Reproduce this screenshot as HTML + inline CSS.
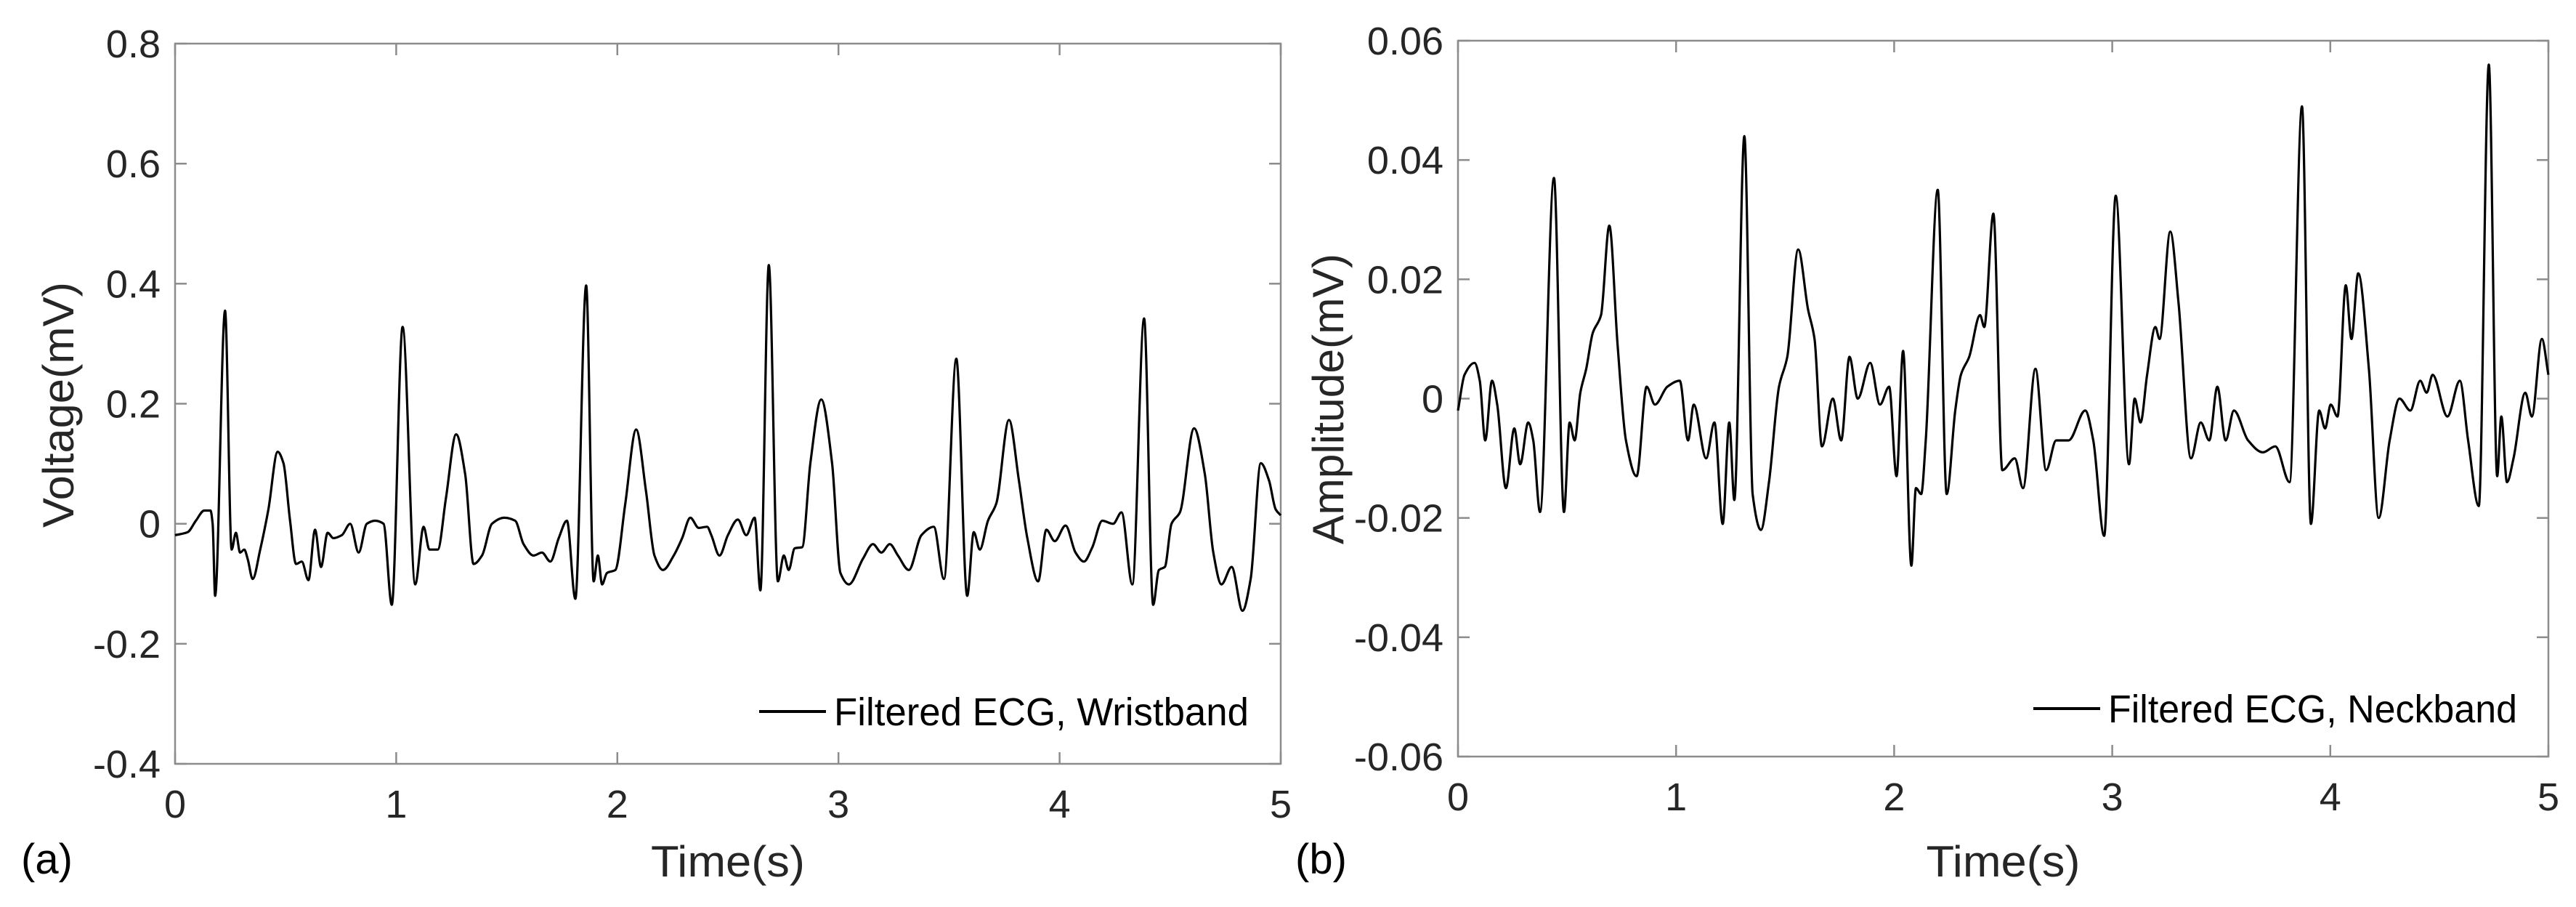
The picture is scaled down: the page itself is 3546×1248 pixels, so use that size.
<!DOCTYPE html>
<html><head><meta charset="utf-8">
<style>
html,body{margin:0;padding:0;background:#fff;}
svg{display:block;font-family:"Liberation Sans",Arial,sans-serif;}
</style></head>
<body>
<svg id="fig" width="3546" height="1248" viewBox="0 0 3546 1248" xmlns="http://www.w3.org/2000/svg">
<rect width="3546" height="1248" fill="#fff"/>
</svg>
<script>
// ---- data: panel (a) wristband ----
const wristT = [0,.057,.094,.132,.16,.17,.181,.226,.256,.275,.294,.313,.328,.351,.385,.422,.464,.49,.52,.547,.573,.603,.633,.66,.69,.716,.754,.792,.83,.867,.905,.943,.98,1.029,1.086,1.124,1.15,1.188,1.225,1.271,1.312,1.35,1.388,1.433,1.489,1.538,1.576,1.621,1.659,1.697,1.735,1.772,1.81,1.859,1.893,1.912,1.931,1.953,1.991,2.036,2.085,2.13,2.168,2.206,2.255,2.293,2.33,2.368,2.406,2.425,2.462,2.5,2.545,2.583,2.621,2.647,2.685,2.726,2.753,2.775,2.802,2.836,2.873,2.922,2.971,3.009,3.047,3.111,3.156,3.194,3.232,3.269,3.318,3.375,3.431,3.477,3.533,3.582,3.612,3.639,3.676,3.714,3.771,3.816,3.854,3.903,3.94,3.978,4.027,4.072,4.11,4.148,4.193,4.242,4.28,4.329,4.382,4.423,4.449,4.476,4.506,4.544,4.608,4.657,4.695,4.732,4.778,4.827,4.864,4.91,4.947,4.977,5];
const wristV = [-.019,-.014,.005,.022,.022,0,-.12,.355,-.043,-.015,-.048,-.043,-.058,-.092,-.043,.024,.12,.101,.005,-.067,-.063,-.094,-.01,-.072,-.015,-.024,-.019,0,-.048,0,.005,0,-.135,.328,-.101,-.005,-.043,-.043,.043,.149,.082,-.067,-.053,0,.01,.005,-.034,-.053,-.048,-.063,-.024,.005,-.125,.397,-.096,-.053,-.101,-.082,-.077,.034,.157,.053,-.053,-.077,-.053,-.024,.01,-.007,-.005,-.019,-.053,-.019,.007,-.019,.01,-.111,.431,-.096,-.053,-.077,-.041,-.039,.101,.207,.101,-.082,-.101,-.058,-.034,-.048,-.034,-.053,-.077,-.019,-.005,-.092,.275,-.12,-.014,-.043,.005,.034,.173,.072,-.024,-.096,-.01,-.029,-.003,-.048,-.063,-.039,.005,0,.019,-.101,.342,-.135,-.077,-.072,0,.019,.159,.082,-.048,-.101,-.072,-.145,-.092,.101,.072,.024,.014];
// ---- data: panel (b) neckband ----
const neckT = [0,.03,.076,.1,.125,.156,.18,.22,.258,.285,.322,.345,.376,.44,.486,.512,.535,.561,.588,.618,.656,.694,.732,.77,.819,.865,.903,.96,1.017,1.055,1.081,1.138,1.176,1.214,1.244,1.267,1.313,1.351,1.389,1.426,1.472,1.51,1.56,1.605,1.635,1.669,1.719,1.757,1.795,1.833,1.89,1.935,1.977,2.011,2.041,2.079,2.1,2.124,2.145,2.2,2.241,2.28,2.306,2.344,2.394,2.413,2.455,2.496,2.553,2.591,2.648,2.697,2.743,2.8,2.876,2.913,2.963,3.016,3.077,3.103,3.13,3.16,3.198,3.217,3.266,3.304,3.361,3.406,3.445,3.482,3.52,3.558,3.623,3.691,3.748,3.813,3.87,3.911,3.949,3.976,4.002,4.033,4.071,4.097,4.128,4.177,4.222,4.272,4.317,4.367,4.412,4.442,4.469,4.537,4.594,4.632,4.681,4.727,4.765,4.784,4.81,4.84,4.894,4.924,4.97,5];
const neckV = [-.002,.004,.006,.003,-.007,.003,-.001,-.015,-.005,-.011,-.004,-.007,-.019,.037,-.019,-.004,-.007,.001,.005,.011,.014,.029,.009,-.007,-.013,.002,-.001,.002,.003,-.007,-.001,-.01,-.004,-.021,-.004,-.017,.044,-.016,-.022,-.014,.002,.007,.025,.015,.01,-.008,0,-.007,.007,0,.006,-.001,.002,-.013,.008,-.028,-.015,-.016,-.007,.035,-.016,-.002,.004,.007,.014,.012,.031,-.012,-.01,-.015,.005,-.012,-.007,-.007,-.002,-.007,-.023,.034,-.011,0,-.004,.004,.012,.01,.028,.016,-.01,-.004,-.007,.002,-.007,-.002,-.007,-.009,-.008,-.014,.049,-.021,-.002,-.005,-.001,-.003,.019,.01,.021,.005,-.02,-.007,0,-.002,.003,.001,.004,-.003,.003,-.007,-.018,.056,-.013,-.003,-.014,-.01,.001,-.003,.01,.004];
const xTicks = [0,1,2,3,4,5];
const yTicksA = [0.8,0.6,0.4,0.2,0,-0.2,-0.4];
const yTickLabelsA = ["0.8","0.6","0.4","0.2","0","-0.2","-0.4"];
const yTicksB = [0.06,0.04,0.02,0,-0.02,-0.04,-0.06];
const yTickLabelsB = ["0.06","0.04","0.02","0","-0.02","-0.04","-0.06"];

const NS="http://www.w3.org/2000/svg";
const svg=document.getElementById('fig');
function mk(tag,attrs,parent){const e=document.createElementNS(NS,tag);for(const k in attrs)e.setAttribute(k,attrs[k]);(parent||svg).appendChild(e);return e;}

// monotone cubic path (Fritsch-Carlson)
function monotonePath(xs,ys){
  const n=xs.length, dx=[], m=[], t=[];
  for(let i=0;i<n-1;i++){dx[i]=xs[i+1]-xs[i]; m[i]=(ys[i+1]-ys[i])/dx[i];}
  t[0]=m[0]; t[n-1]=m[n-2];
  for(let i=1;i<n-1;i++){
    if(m[i-1]*m[i]<=0) t[i]=0;
    else { const w1=2*dx[i]+dx[i-1], w2=dx[i]+2*dx[i-1]; t[i]=(w1+w2)/(w1/m[i-1]+w2/m[i]); }
  }
  let d='M'+xs[0].toFixed(1)+','+ys[0].toFixed(1);
  for(let i=0;i<n-1;i++){
    const h=dx[i]/3;
    d+='C'+(xs[i]+h).toFixed(1)+','+(ys[i]+t[i]*h).toFixed(1)+' '+(xs[i+1]-h).toFixed(1)+','+(ys[i+1]-t[i+1]*h).toFixed(1)+' '+xs[i+1].toFixed(1)+','+ys[i+1].toFixed(1);
  }
  return d;
}

function panel(cfg){
  const g=mk('g',{});
  
  
  const sx=t=>cfg.x0+(t-0)/(5-0)*(cfg.x1-cfg.x0);
  const sy=v=>cfg.y0+(cfg.ymax-v)/(cfg.ymax-cfg.ymin)*(cfg.y1-cfg.y0);
  const box=mk('rect',{x:cfg.x0,y:cfg.y0,width:cfg.x1-cfg.x0,height:cfg.y1-cfg.y0,fill:'none',stroke:'#8c8c8c','stroke-width':2.5},g);
  
  
  xTicks.forEach(t=>{
    const X=sx(t);
    mk('line',{x1:X,y1:cfg.y1,x2:X,y2:cfg.y1-16,stroke:'#8c8c8c','stroke-width':2.5},g);
    mk('line',{x1:X,y1:cfg.y0,x2:X,y2:cfg.y0+16,stroke:'#8c8c8c','stroke-width':2.5},g);
    const tx=mk('text',{x:X,y:cfg.y1+74,'text-anchor':'middle','font-size':54,fill:'#262626'},g);
    tx.textContent=String(t);
    
    
  });
  cfg.yTicks.forEach((v,i)=>{
    const Y=sy(v);
    mk('line',{x1:cfg.x0,y1:Y,x2:cfg.x0+16,y2:Y,stroke:'#8c8c8c','stroke-width':2.5},g);
    mk('line',{x1:cfg.x1,y1:Y,x2:cfg.x1-16,y2:Y,stroke:'#8c8c8c','stroke-width':2.5},g);
    const tx=mk('text',{x:cfg.x0-20,y:Y+19,'text-anchor':'end','font-size':54,fill:'#262626'},g);
    tx.textContent=cfg.yLabels[i];
    
    
  });
  const px=cfg.T.map(sx), py=cfg.V.map(sy);
  const p=mk('path',{d:monotonePath(px,py),fill:'none',stroke:'#000','stroke-width':3.2,'stroke-linejoin':'round'},g);
  
  
  const lg=mk('g',{},g);
  
  
  mk('line',{x1:cfg.legX,y1:cfg.legY,x2:cfg.legX+92,y2:cfg.legY,stroke:'#000','stroke-width':4},lg);
  const lt=mk('text',{x:cfg.legX+103,y:cfg.legY+19,'font-size':54,fill:'#000',textLength:cfg.legW,lengthAdjust:'spacingAndGlyphs'},lg);
  lt.textContent=cfg.legText;
  
  
  const xl=mk('text',{x:(cfg.x0+cfg.x1)/2,y:1206,'text-anchor':'middle','font-size':60,fill:'#262626',textLength:212,lengthAdjust:'spacingAndGlyphs'},g);
  xl.textContent='Time(s)';
  
  
  const yl=mk('text',{x:0,y:0,'text-anchor':'middle','font-size':60,fill:'#262626',textLength:cfg.ylW,lengthAdjust:'spacingAndGlyphs',transform:'translate('+(cfg.ylX)+','+cfg.ylY+') rotate(-90)'},g);
  yl.textContent=cfg.ylabel;
  
  
  const pl=mk('text',{x:cfg.plX,y:1202,'font-size':58,fill:'#000'},g);
  pl.textContent=cfg.panelLabel;
  
  
}

panel({name:'panel-a-wristband',x0:241,x1:1763,y0:60,y1:1051,ymin:-0.4,ymax:0.8,yTicks:yTicksA,yLabels:yTickLabelsA,
  T:wristT,V:wristV,legX:1045,legY:979,legW:571,legText:'Filtered ECG, Wristband',
  ylabel:'Voltage(mV)',ylX:101,ylY:557,ylW:338,panelLabel:'(a)',plX:29});
panel({name:'panel-b-neckband',x0:2007,x1:3508,y0:56,y1:1041,ymin:-0.06,ymax:0.06,yTicks:yTicksB,yLabels:yTickLabelsB,
  T:neckT,V:neckV,legX:2799,legY:975,legW:563,legText:'Filtered ECG, Neckband',
  ylabel:'Amplitude(mV)',ylX:1849,ylY:549,ylW:400,panelLabel:'(b)',plX:1783});
</script>
</body></html>
